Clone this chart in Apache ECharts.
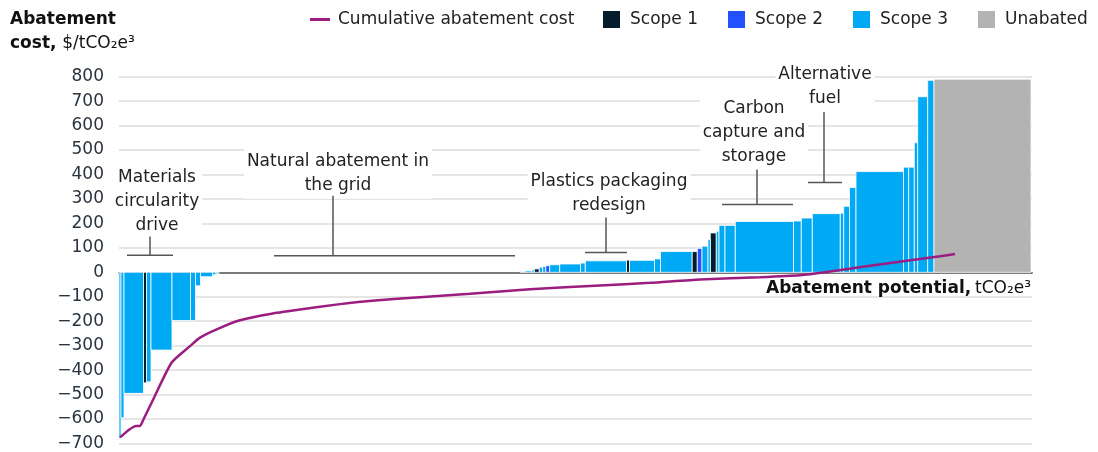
<!DOCTYPE html>
<html>
<head>
<meta charset="utf-8">
<script src="https://cdn.jsdelivr.net/npm/echarts@6/dist/echarts.min.js"></script>
<style>
html,body{margin:0;padding:0;background:#fff;}
#chart{width:1098px;height:452px;}
</style>
</head>
<body>
<div id="chart"></div>
<script>
// ---- Data ----
// Abatement potential of each lever (arbitrary units, width of each bar)
const barWidths = [2, 3, 19.5, 3, 4.5, 21, 18.5, 5, 5, 12, 3.5, 3,
  301,
  5, 7, 2.3, 5, 3.4, 3, 4, 10, 20.8, 4.8, 41.2, 3, 25, 6, 31.5, 5.3, 4.7, 6, 2.3, 6, 2.7,
  6, 10.3, 58.2, 7.8, 11, 28, 3.4, 5.8, 6.5, 47.5, 5.2, 5.6, 3.4, 10, 6.3,
  97];
// Abatement cost of each lever, $/tCO2e
const barCosts = [-680, -595, -495, -452, -448, -318, -197, -197, -55, -18, -10, -6,
  0,
  3, 6, 10, 14, 21, 24, 27, 31, 34, 38, 47, 50, 49, 55, 85, 85, 98, 107, 134, 161, 168,
  192, 192, 208, 210, 222, 240, 242, 270, 347, 412, 430, 430, 530, 718, 785,
  790];
// Scope of each lever
const barScopes = ['Scope 3','Scope 3','Scope 3','Scope 1','Scope 3','Scope 3','Scope 3','Scope 3','Scope 3','Scope 3','Scope 3','Scope 3',
  'Scope 3',
  'Scope 3','Scope 3','Scope 3','Scope 1','Scope 3','Scope 3','Scope 2','Scope 3','Scope 3','Scope 3','Scope 3','Scope 1','Scope 3','Scope 3','Scope 3','Scope 1','Scope 2','Scope 3','Scope 3','Scope 1','Scope 3',
  'Scope 3','Scope 3','Scope 3','Scope 3','Scope 3','Scope 3','Scope 3','Scope 3','Scope 3','Scope 3','Scope 3','Scope 3','Scope 3','Scope 3','Scope 3',
  'Unabated'];
// Cumulative abatement cost curve: [cumulative potential, cost]
const cumPotential = [1, 17, 21, 24.3, 34.3, 52.7, 71, 81, 97.7, 121, 151, 181, 221, 256, 301, 351, 411, 481, 531, 581, 641, 681, 706, 751, 821, 836];
const cumCost = [-675, -628, -628, -603, -519, -369, -302, -267, -233, -196, -170, -152, -130, -115, -102, -88, -69, -54, -43, -29, -20, -12, 0, 27, 66, 75];
// Y axis ticks
const yMin = -700, yMax = 800, yStep = 100;
const totalPotential = 913;

// Annotation texts (one entry per line)
const annoTexts = [
  ['Materials', 'circularity', 'drive'],
  ['Natural abatement in', 'the grid'],
  ['Plastics packaging', 'redesign'],
  ['Carbon', 'capture and', 'storage'],
  ['Alternative', 'fuel']
];

// ---- Layout of annotations (data coordinates) ----
// [textX, textY, bracketX0, bracketX1, bracketY, tickX, tickTopY]
const annoLayout = [
  [38, 289, 8, 54, 70, 31, 146],
  [219, 403, 155, 396, 68, 214, 313],
  [490, 322, 466, 508, 81, 487, 224],
  [635, 573, 603, 674, 277, 638, 420],
  [706, 758, 689, 723, 367, 705, 656]
];

const FONT = '"DejaVu Sans", sans-serif';
const FS = 17, LH = 24;
const colors = {'Scope 1':'#051c2c', 'Scope 2':'#2251ff', 'Scope 3':'#00a9f4', 'Unabated':'#b3b3b3'};
const lineColor = '#9b1d80';

const measureCtx = document.createElement('canvas').getContext('2d');
measureCtx.font = FS + 'px ' + FONT;

// build bar data per scope
let acc = 0;
const scopeData = {'Scope 1':[], 'Scope 2':[], 'Scope 3':[], 'Unabated':[]};
for (let i = 0; i < barWidths.length; i++) {
  const x0 = acc, x1 = acc + barWidths[i];
  acc = x1;
  scopeData[barScopes[i]].push([x0, x1, barCosts[i]]);
}

function renderBar(params, api) {
  const x0 = api.value(0), x1 = api.value(1), c = api.value(2);
  if (c === 0) return null;
  const p0 = api.coord([x0, 0]);
  const p1 = api.coord([x1, c]);
  return {
    type: 'rect',
    shape: {x: p0[0], y: Math.min(p0[1], p1[1]), width: p1[0] - p0[0], height: Math.abs(p1[1] - p0[1])},
    style: {fill: api.visual('color'), stroke: '#ffffff', lineWidth: 0.8}
  };
}

const barSeries = ['Scope 1','Scope 2','Scope 3','Unabated'].map(name => ({
  name: name,
  type: 'custom',
  renderItem: renderBar,
  itemStyle: {color: colors[name]},
  encode: {x: [0, 1], y: 2},
  data: scopeData[name],
  z: 2
}));

function renderAnno(params, api) {
  const l = annoLayout[params.dataIndex];
  const lines = annoTexts[params.dataIndex];
  const t = api.coord([l[0], l[1]]);
  const b0 = api.coord([l[2], l[4]]);
  const b1 = api.coord([l[3], l[4]]);
  const tk = api.coord([l[5], l[6]]);
  const maxW = Math.max(...lines.map(s => measureCtx.measureText(s).width));
  const blockH = lines.length * LH;
  const top = t[1] - blockH / 2;
  const children = [
    {type: 'rect', z2: 0, shape: {x: t[0] - maxW / 2 - 3, y: top - 1, width: maxW + 6, height: blockH + 2}, style: {fill: '#fff'}},
    {type: 'line', z2: 5, shape: {x1: b0[0], y1: b0[1], x2: b1[0], y2: b1[1]}, style: {stroke: '#555', lineWidth: 1.5}},
    {type: 'line', z2: 5, shape: {x1: tk[0], y1: tk[1], x2: tk[0], y2: b0[1]}, style: {stroke: '#555', lineWidth: 1.5}}
  ];
  lines.forEach((s, k) => {
    children.push({type: 'text', z2: 10, x: t[0], y: top + LH * k + LH / 2, style: {
      text: s, fill: '#222', fontFamily: FONT, fontSize: FS, align: 'center', verticalAlign: 'middle'
    }});
  });
  return {type: 'group', children: children};
}

const chart = echarts.init(document.getElementById('chart'), null, {renderer: 'canvas'});
chart.setOption({
  animation: false,
  backgroundColor: '#fff',
  textStyle: {fontFamily: FONT},
  title: {
    text: '{b|Abatement}\n{b|cost,} {r|$/tCO₂e³}',
    left: 10, top: 8, padding: 0,
    textStyle: {
      fontWeight: 'normal',
      rich: {
        b: {fontFamily: FONT, fontWeight: 'bold', fontSize: 17, lineHeight: 24, color: '#111'},
        r: {fontFamily: FONT, fontWeight: 'normal', fontSize: 17, lineHeight: 24, color: '#111'}
      }
    }
  },
  legend: [
    {
      left: 310, top: 11, padding: 0,
      data: [{name: 'Cumulative abatement cost', icon: 'rect'}],
      itemWidth: 20, itemHeight: 3,
      textStyle: {fontFamily: FONT, fontSize: 17, color: '#222', padding: [0, 0, 0, 3]},
      selectedMode: false
    },
    {
      left: 603, top: 11, padding: 0,
      data: ['Scope 1', 'Scope 2', 'Scope 3', 'Unabated'].map(n => ({name: n, icon: 'rect'})),
      itemWidth: 17, itemHeight: 17, itemGap: 30,
      textStyle: {fontFamily: FONT, fontSize: 17, color: '#222', padding: [0, 0, 0, 5]},
      selectedMode: false
    }
  ],
  grid: {left: 119, right: 66, top: 76.7, bottom: 7.7, containLabel: false},
  xAxis: {
    type: 'value', min: 0, max: totalPotential,
    axisLine: {show: true, onZero: true, lineStyle: {color: '#7a7a7a', width: 2}},
    axisTick: {show: false}, axisLabel: {show: false}, splitLine: {show: false},
    name: '{b|Abatement potential,} {r|tCO₂e³}',
    nameLocation: 'end', nameGap: -1,
    nameTextStyle: {
      align: 'right', verticalAlign: 'top', padding: [8, 0, 0, 0],
      rich: {
        b: {fontFamily: FONT, fontWeight: 'bold', fontSize: 17, color: '#111'},
        r: {fontFamily: FONT, fontWeight: 'normal', fontSize: 17, color: '#111'}
      }
    }
  },
  yAxis: {
    type: 'value', min: yMin, max: yMax, interval: yStep,
    axisLine: {show: false}, axisTick: {show: false},
    axisLabel: {
      margin: 15, fontFamily: FONT, fontSize: 17, color: '#2a3440',
      formatter: v => String(v).replace('-', '−')
    },
    splitLine: {lineStyle: {color: '#dddddd', width: 1.5}}
  },
  series: [
    ...barSeries,
    {
      name: 'Cumulative abatement cost',
      type: 'line',
      data: cumPotential.map((x, i) => [x, cumCost[i]]),
      showSymbol: false,
      smooth: 0.2,
      lineStyle: {color: lineColor, width: 2.5},
      itemStyle: {color: lineColor},
      z: 5
    },
    {
      name: 'annotations',
      type: 'custom',
      renderItem: renderAnno,
      data: annoLayout,
      encode: {x: 0, y: 1},
      silent: true,
      z: 6
    }
  ]
});
</script>
</body>
</html>
